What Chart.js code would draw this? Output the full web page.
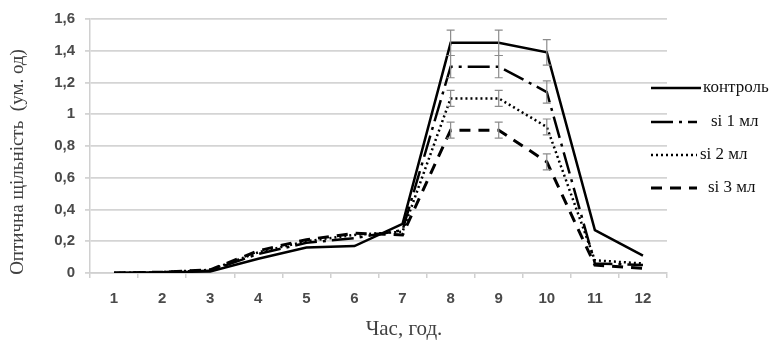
<!DOCTYPE html>
<html>
<head>
<meta charset="utf-8">
<script src="https://cdn.jsdelivr.net/npm/chart.js@4/dist/chart.umd.min.js"></script>
<style>
html,body{margin:0;padding:0;background:#fff;}
#wrap{width:778px;height:342px;position:relative;}
</style>
</head>
<body>
<div id="wrap"><canvas id="c" width="778" height="342"></canvas></div>
<script>
const hours = ['1','2','3','4','5','6','7','8','9','10','11','12'];
const control = [0, 0.005, 0.01, 0.09, 0.16, 0.17, 0.31, 1.45, 1.45, 1.39, 0.27, 0.11];
const si1 = [0, 0.005, 0.015, 0.12, 0.19, 0.22, 0.27, 1.30, 1.30, 1.14, 0.06, 0.05];
const si2 = [0, 0.005, 0.02, 0.13, 0.20, 0.24, 0.26, 1.10, 1.10, 0.92, 0.08, 0.06];
const si3 = [0, 0.005, 0.02, 0.14, 0.21, 0.25, 0.24, 0.90, 0.90, 0.70, 0.05, 0.03];
const errControl = [0,0,0,0,0,0,0,0.08,0.08,0.08,0,0];
const errSi1 = [0,0,0,0,0,0,0,0.07,0.07,0.07,0,0];
const errSi2 = [0,0,0,0,0,0,0,0.05,0.05,0.05,0,0];
const errSi3 = [0,0,0,0,0,0,0,0.05,0.05,0.05,0,0];
const seriesNames = ['контроль','si 1 мл','si 2 мл','si 3 мл'];
const yTicks = [0,0.2,0.4,0.6,0.8,1,1.2,1.4,1.6];
const xTitle = 'Час, год.';
const yTitle = 'Оптична щільність  (ум. од)';

const styles = [
  {dash: [], width: 2.5},
  {dash: [22,6,3,6], width: 2.5},
  {dash: [2,3], width: 2.5},
  {dash: [11,8], width: 3}
];
const legendLayout = [
  {y: 88, textX: 703},
  {y: 122, textX: 711},
  {y: 155, textX: 700},
  {y: 188, textX: 708}
];

const errorBars = {
  id: 'errorBars',
  afterDatasetsDraw(chart) {
    const ctx = chart.ctx;
    const y = chart.scales.y;
    ctx.save();
    ctx.strokeStyle = '#8c8c8c';
    ctx.lineWidth = 1.2;
    ctx.setLineDash([]);
    chart.data.datasets.forEach((ds, di) => {
      const meta = chart.getDatasetMeta(di);
      ds.errors.forEach((e, i) => {
        if (!e) return;
        const x = meta.data[i].x;
        const top = y.getPixelForValue(ds.data[i] + e);
        const bot = y.getPixelForValue(ds.data[i] - e);
        ctx.beginPath();
        ctx.moveTo(x, top); ctx.lineTo(x, bot);
        ctx.moveTo(x-4, top); ctx.lineTo(x+4, top);
        ctx.moveTo(x-4, bot); ctx.lineTo(x+4, bot);
        ctx.stroke();
      });
    });
    ctx.restore();
  }
};

const customLegend = {
  id: 'customLegend',
  afterDraw(chart) {
    const ctx = chart.ctx;
    ctx.save();
    chart.data.datasets.forEach((ds, i) => {
      const L = legendLayout[i];
      ctx.strokeStyle = '#000';
      ctx.lineWidth = styles[i].width;
      ctx.setLineDash(styles[i].dash);
      ctx.beginPath();
      ctx.moveTo(651, L.y);
      ctx.lineTo(i === 0 ? 701 : 697, L.y);
      ctx.stroke();
      ctx.setLineDash([]);
      ctx.fillStyle = '#111';
      ctx.font = '17px "Liberation Serif"';
      ctx.textBaseline = 'middle';
      ctx.fillText(ds.label, L.textX, L.y);
    });
    // axis titles
    ctx.fillStyle = '#404040';
    ctx.textAlign = 'center';
    ctx.textBaseline = 'middle';
    ctx.font = '21px "Liberation Serif"';
    ctx.fillText(xTitle, 404, 329);
    ctx.translate(18, 162);
    ctx.rotate(-Math.PI/2);
    ctx.font = '19px "Liberation Serif"';
    ctx.fillText(yTitle, 0, 0);
    ctx.restore();
  }
};

const all = [control, si1, si2, si3];
const errs = [errControl, errSi1, errSi2, errSi3];

new Chart(document.getElementById('c'), {
  type: 'line',
  data: {
    labels: hours,
    datasets: all.map((d, i) => ({
      label: seriesNames[i],
      data: d,
      errors: errs[i],
      borderColor: '#000',
      borderWidth: styles[i].width,
      borderDash: styles[i].dash,
      pointRadius: 0,
      tension: 0,
      fill: false
    }))
  },
  options: {
    responsive: false,
    animation: false,
    layout: {padding: {left: 0, right: 111, top: 3, bottom: 0}},
    plugins: {legend: {display: false}, tooltip: {enabled: false}},
    scales: {
      x: {
        offset: true,
        grid: {offset: true, drawOnChartArea: false, drawTicks: true, tickLength: 5, color: '#d0d0d0', lineWidth: 1.5},
        border: {color: '#d0d0d0', width: 1.5},
        ticks: {color: '#4a4a4a', font: {family: 'Liberation Sans', size: 15, weight: 'bold'}, padding: 12, maxRotation: 0},
        afterFit(s) { s.height = 69; }
      },
      y: {
        min: 0, max: 1.6,
        afterBuildTicks(s) { s.ticks = yTicks.map(v => ({value: v})); },
        grid: {color: '#d4d4d4', lineWidth: 1.8, tickLength: 5, drawTicks: true},
        border: {color: '#d0d0d0', width: 1.5},
        ticks: {color: '#4a4a4a', font: {family: 'Liberation Sans', size: 15, weight: 'bold'}, padding: 10,
          callback: v => (Math.round(v*10)/10).toString().replace('.', ',')},
        afterFit(s) { s.width = 90; }
      }
    }
  },
  plugins: [errorBars, customLegend]
});
</script>
</body>
</html>
